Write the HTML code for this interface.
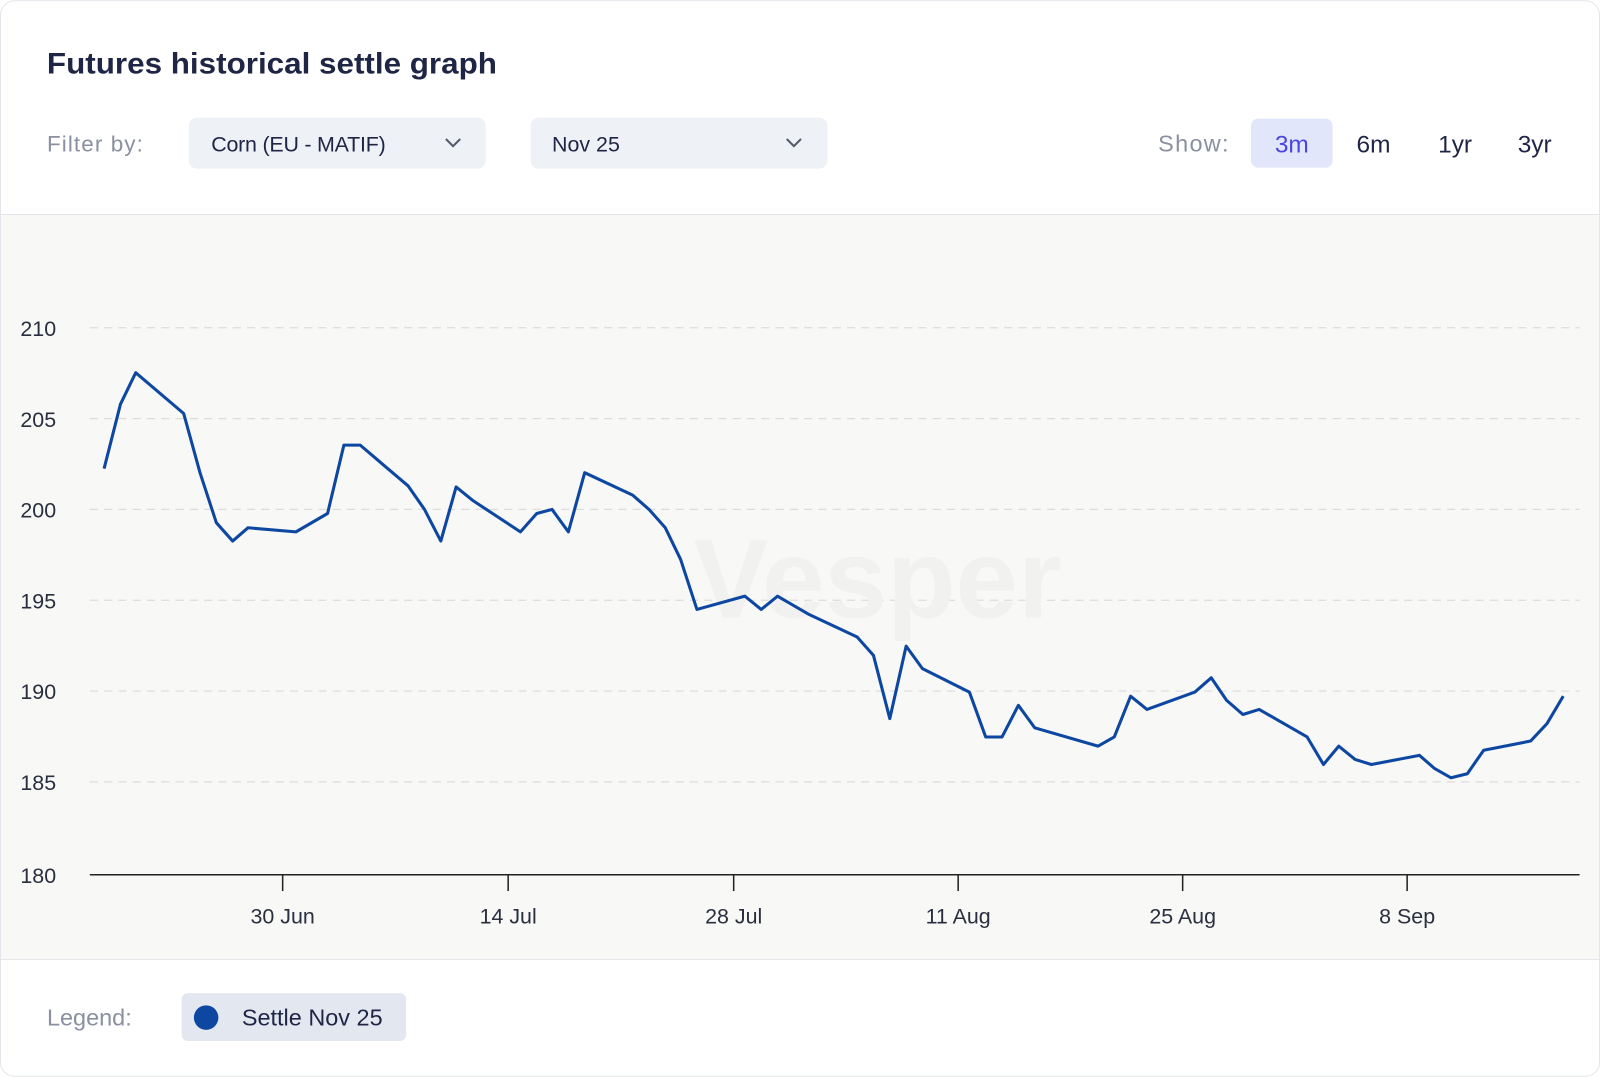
<!DOCTYPE html>
<html><head><meta charset="utf-8"><style>
html,body{margin:0;padding:0;background:#fff;}
svg{display:block;font-family:"Liberation Sans",sans-serif;}
</style></head><body>
<svg width="1600" height="1077" viewBox="0 0 1568 1055" xmlns="http://www.w3.org/2000/svg">
<rect x="0.5" y="0.5" width="1567" height="1054" rx="14" fill="#fff" stroke="#e3e5ea"/>
<rect x="1" y="210" width="1566" height="730" fill="#f8f8f6"/>
<line x1="1" y1="210" x2="1567" y2="210" stroke="#e3e5ea"/>
<line x1="1" y1="940" x2="1567" y2="940" stroke="#e3e5ea"/>
<text x="46" y="72" font-size="29" font-weight="bold" fill="#1f2544" textLength="441" lengthAdjust="spacingAndGlyphs">Futures historical settle graph</text>
<text x="46" y="148" font-size="22" fill="#8a90a0" textLength="94">Filter by:</text>
<rect x="185" y="115" width="291" height="50" rx="8" fill="#eef1f6"/>
<text x="207" y="148" font-size="21" fill="#1f2544" textLength="171">Corn (EU - MATIF)</text>
<path d="M437 136l7 7 7-7" stroke="#555b6b" stroke-width="2" fill="none"/>
<rect x="520" y="115" width="291" height="50" rx="8" fill="#eef1f6"/>
<text x="541" y="148" font-size="21" fill="#1f2544">Nov 25</text>
<path d="M771 136l7 7 7-7" stroke="#555b6b" stroke-width="2" fill="none"/>
<text x="1135" y="148" font-size="23" fill="#8a90a0" textLength="69">Show:</text>
<rect x="1226" y="116" width="80" height="48" rx="7" fill="#e2e6fb"/>
<text x="1266" y="149" font-size="24" fill="#4a46e0" text-anchor="middle">3m</text>
<text x="1346" y="149" font-size="24" fill="#1f2544" text-anchor="middle">6m</text>
<text x="1426" y="149" font-size="24" fill="#1f2544" text-anchor="middle">1yr</text>
<text x="1504" y="149" font-size="24" fill="#1f2544" text-anchor="middle">3yr</text>
<g stroke="#dcdcdc" stroke-dasharray="8,6" stroke-width="1.2">
<line x1="88" y1="321" x2="1548" y2="321"/><line x1="88" y1="410" x2="1548" y2="410"/>
<line x1="88" y1="499" x2="1548" y2="499"/><line x1="88" y1="588" x2="1548" y2="588"/>
<line x1="88" y1="677" x2="1548" y2="677"/><line x1="88" y1="766" x2="1548" y2="766"/>
</g>
<g font-size="21" fill="#2a2f3f">
<text x="20" y="329">210</text><text x="20" y="418">205</text><text x="20" y="507">200</text>
<text x="20" y="596">195</text><text x="20" y="685">190</text><text x="20" y="774">185</text><text x="20" y="865">180</text>
</g>
<text x="860" y="605" font-size="110" font-weight="bold" fill="#f1f1ef" text-anchor="middle">Vesper</text>
<line x1="88" y1="857" x2="1548" y2="857" stroke="#222" stroke-width="1.5"/>
<g stroke="#222" stroke-width="1.5">
<line x1="277" y1="857" x2="277" y2="873"/><line x1="498" y1="857" x2="498" y2="873"/>
<line x1="719" y1="857" x2="719" y2="873"/><line x1="939" y1="857" x2="939" y2="873"/>
<line x1="1159" y1="857" x2="1159" y2="873"/><line x1="1379" y1="857" x2="1379" y2="873"/>
</g>
<g font-size="21" fill="#2a2f3f" text-anchor="middle">
<text x="277" y="905">30 Jun</text><text x="498" y="905">14 Jul</text><text x="719" y="905">28 Jul</text>
<text x="939" y="905">11 Aug</text><text x="1159" y="905">25 Aug</text><text x="1379" y="905">8 Sep</text>
</g>
<polyline fill="none" stroke="#0d47a1" stroke-width="3" stroke-linejoin="round" points="102,459 118,396 133,365 180,405 196,463 212,512 228,530 243,517 290,521 321,503 337,436 353,436 400,476 416,499 432,530 447,477 463,490 510,521 526,503 541,499 557,521 573,463 620,485 636,499 652,517 667,548 683,597 730,584 746,597 762,584 793,602 840,624 856,642 872,704 888,633 904,655 950,678 966,722 982,722 998,691 1014,713 1076,731 1092,722 1108,682 1124,695 1171,678 1187,664 1202,686 1218,700 1234,695 1281,722 1297,749 1312,731 1328,744 1344,749 1391,740 1406,753 1422,762 1438,758 1454,735 1500,726 1516,709 1532,682"/>
<text x="46" y="1005" font-size="23" fill="#8a90a0">Legend:</text>
<rect x="178" y="973" width="220" height="47" rx="6" fill="#e3e8f0"/>
<circle cx="202" cy="997" r="12" fill="#0d47a1"/>
<text x="237" y="1005" font-size="23" fill="#1f2544">Settle Nov 25</text>
</svg>
</body></html>
